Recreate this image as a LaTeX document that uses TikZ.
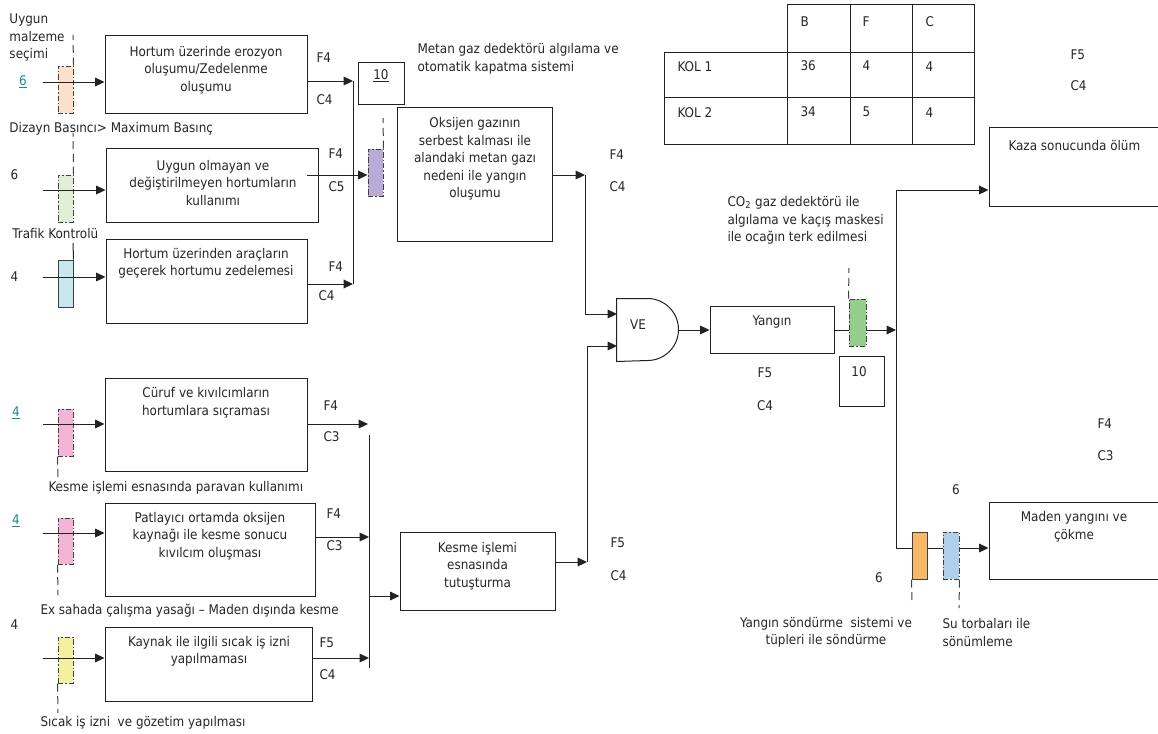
\documentclass[tikz,border=0pt]{standalone}
\usepackage{fontspec}
\setmainfont{DejaVu Sans Condensed}
\usetikzlibrary{arrows.meta,fit}
\definecolor{lnc}{HTML}{222222}
\definecolor{peach}{HTML}{FBE0CC}
\definecolor{pgreen}{HTML}{E0EFD6}
\definecolor{pblue}{HTML}{C8E7EE}
\definecolor{ppurple}{HTML}{B9AAD6}
\definecolor{ppink}{HTML}{F4B4D4}
\definecolor{pyellow}{HTML}{F4F19E}
\definecolor{ygreen}{HTML}{95CE8C}
\definecolor{porange}{HTML}{F9B865}
\definecolor{lblue}{HTML}{AED0EA}
\definecolor{tealc}{HTML}{1B8A8A}
\begin{document}
\begin{tikzpicture}[x=0.75pt,y=-0.75pt,
  line width=0.75pt, draw=lnc,
  box/.style={draw=lnc, inner sep=0pt, line width=0.75pt},
  ctrl/.style={draw=black!75, inner sep=0pt, line width=0.75pt, dash pattern=on 4pt off 1.5pt on 1pt off 1.5pt},
  ctrls/.style={draw=black!75, inner sep=0pt, line width=0.75pt},
  arr/.style={draw=lnc, -{Triangle[length=7pt,width=6.5pt]}},
  ln/.style={draw=lnc},
  dline/.style={draw=black!75, dash pattern=on 6pt off 3.5pt},
  lbl/.style={inner sep=0pt, anchor=west, font=\fontsize{10}{13.2}\selectfont, text=black!85},
  ml/.style={lbl, align=left},
  btxt/.style={inner sep=0pt, align=center, font=\fontsize{10}{13.2}\selectfont, text=black!85},
  tl/.style={inner sep=0pt, font=\fontsize{10}{13.2}\selectfont, text=tealc}
]
\useasboundingbox (0,0) rectangle (1158,733);

% ---------- top-left group ----------
\node[box, fit={(105,35) (307,113)}] (b1) {};
\node[btxt] (b1t) at (206,70) {Hortum üzerinde erozyon\\oluşumu/Zedelenme\\oluşumu};
\node[box, fit={(106,148) (318,222)}] (b2) {};
\node[btxt] (b2t) at (213,183) {Uygun olmayan ve\\değiştirilmeyen hortumların\\kullanımı};
\node[box, fit={(106,239) (307,323)}] (b3) {};
\node[btxt] (b3t) at (206,263.5) {Hortum üzerinden araçların\\geçerek hortumu zedelemesi};

\node[ctrl, fill=peach, fit={(58,66) (73,113)}] (c1) {};
\node[ctrl, fill=pgreen, fit={(58,175) (73,222)}] (c2) {};
\node[ctrls, fill=pblue, fit={(58,260) (73,307)}] (c3) {};
\coordinate (d1) at (73,35);
\coordinate (d2) at (73,133);
\coordinate (d3) at (73,243);
\draw[dline] (c1.north east) -- (d1);
\draw[dline] (c2.north east) -- (d2);
\draw[ln] (c3.north east) -- (d3);

\coordinate (i1) at (43,82);
\coordinate (i2) at (43,190);
\coordinate (i3) at (43,277);
\draw[arr] (i1) -- (b1.west |- i1);
\draw[arr] (i2) -- (b2.west |- i2);
\draw[arr] (i3) -- (b3.west |- i3);

\node[ml] (l1) at (9,37.5) {Uygun\\malzeme\\seçimi};
\node[tl] (l1n) at (23,82) {\underline{6}};
\node[lbl] (l2) at (9,129) {Dizayn Basıncı> Maximum Basınç};
\node[lbl] (l2n) at (10,175) {6};
\node[lbl] (l3) at (12,234) {Trafik Kontrolü};
\node[lbl] (l3n) at (10,277) {4};

\node[lbl] (f1) at (316,58) {F4};
\node[lbl] (g1) at (316,100) {C4};
\node[lbl] (f2) at (328,154) {F4};
\node[lbl] (g2) at (328,187) {C5};
\node[lbl] (f3) at (328,267) {F4};
\node[lbl] (g3) at (318,296) {C4};

\coordinate (j1t) at (353,81);
\coordinate (j1b) at (353,284);
\draw[ln] (j1t) -- (j1b);
\draw[arr] (b1.east |- j1t) -- (j1t);
\draw[arr] (b3.east |- j1b) -- (j1b);

\node[box, fit={(358,62) (404,104)}] (n10a) {};
\node[lbl, anchor=center] (n10at) at (381,76) {\underline{10}};
\node[ml] (metan) at (417,59) {\fontsize{10}{16.5}\selectfont Metan gaz dedektörü algılama ve\\otomatik kapatma sistemi};

\node[ctrl, fill=ppurple, fit={(368,149) (383,196)}] (c4) {};
\coordinate (d4) at (383,118);
\draw[dline] (c4.north east) -- (d4);
\coordinate (p2) at (307,175);
\draw[arr] (p2) -- (c4.west |- p2);

\node[box, fit={(397,107) (552,241)}] (ob) {};
\node[btxt] (obt) at (475,159) {\fontsize{10}{12.7}\selectfont Oksijen gazının\\serbest kalması ile\\alandaki metan gazı\\nedeni ile yangın\\oluşumu};
\node[lbl] (f7) at (609,155) {F4};
\node[lbl] (g7) at (609,187) {C4};

% ---------- bottom-left group ----------
\node[box, fit={(105,378) (307,471)}] (b4) {};
\node[btxt] (b4t) at (206,403) {Cüruf ve kıvılcımların\\hortumlara sıçraması};
\node[box, fit={(105,503) (315,596)}] (b5) {};
\node[btxt] (b5t) at (210,536) {Patlayıcı ortamda oksijen\\kaynağı ile kesme sonucu\\kıvılcım oluşması};
\node[box, fit={(105,627) (312,701)}] (b6) {};
\node[btxt] (b6t) at (209,651.5) {Kaynak ile ilgili sıcak iş izni\\yapılmaması};

\node[ctrl, fill=ppink, fit={(58,409) (73,456)}] (c5) {};
\node[ctrl, fill=ppink, fit={(58,518) (73,564)}] (c6) {};
\node[ctrl, fill=pyellow, fit={(58,637) (73,683)}] (c7) {};
\coordinate (d5) at (58,478);
\coordinate (d6) at (58,595);
\coordinate (d7) at (58,713);
\draw[dline] (c5.south west) -- (d5);
\draw[dline] (c6.south west) -- (d6);
\draw[dline] (c7.south west) -- (d7);

\coordinate (i4) at (43,424);
\coordinate (i5) at (43,533);
\coordinate (i6) at (43,658);
\draw[arr] (i4) -- (b4.west |- i4);
\draw[arr] (i5) -- (b5.west |- i5);
\draw[arr] (i6) -- (b6.west |- i6);

\node[tl] (l4n) at (16,413) {\underline{4}};
\node[lbl] (l4) at (48,488) {Kesme işlemi esnasında paravan kullanımı};
\node[tl] (l5n) at (16,521) {\underline{4}};
\node[lbl] (l5) at (40,611) {Ex sahada çalışma yasağı – Maden dışında kesme};
\node[lbl] (l6n) at (10,625) {4};
\node[lbl] (l6) at (40,723) {Sıcak iş izni\ \ ve gözetim yapılması};

\node[lbl] (f4) at (323,406) {F4};
\node[lbl] (g4) at (323,437) {C3};
\node[lbl] (f5) at (326,514) {F4};
\node[lbl] (g5) at (326,546) {C3};
\node[lbl] (f6) at (319,643) {F5};
\node[lbl] (g6) at (319,675) {C4};

\coordinate (j2t) at (369,435);
\coordinate (j2b) at (369,668);
\draw[ln] (j2t) -- (j2b);
\coordinate (a4) at (368,424);
\coordinate (a5) at (369,537);
\coordinate (a6) at (369,658);
\draw[arr] (b4.east |- a4) -- (a4);
\draw[arr] (b5.east |- a5) -- (a5);
\draw[arr] (b6.east |- a6) -- (a6);

\node[box, fit={(400,532) (555,610)}] (kb) {};
\node[btxt] (kbt) at (477.5,566) {Kesme işlemi\\esnasında\\tutuşturma};
\coordinate (a7) at (369,596);
\draw[arr] (a7) -- (kb.west |- a7);
\node[lbl] (f8) at (610,543) {F5};
\node[lbl] (g8) at (610,576) {C4};

% ---------- VE gate ----------
\node[inner sep=0pt, fit={(617,299) (679,361)}] (ve) {};
\draw[ln] (ve.north west) -- ++(31,0) arc[start angle=90, end angle=-90, radius=23.25pt] -- (ve.south west) -- cycle;
\node[lbl, anchor=center] (vet) at (638,325) {VE};

\coordinate (k1) at (585,175);
\coordinate (k2) at (587,562);
\coordinate (v1) at (617,314);
\coordinate (v2) at (617,346);
\draw[arr] (ob.east |- k1) -- (k1);
\draw[arr] (k1) -- (k1 |- v1) -- (v1);
\draw[arr] (kb.east |- k2) -- (k2);
\draw[arr] (k2) -- (k2 |- v2) -- (v2);

% ---------- Yangin ----------
\node[box, fit={(710,306) (834,353)}] (yb) {};
\node[btxt] (ybt) at (772,322) {Yangın};
\coordinate (vo) at (679,330);
\draw[arr] (vo) -- (yb.west |- vo);
\node[ctrl, fill=ygreen, fit={(849,299) (866,346)}] (c8) {};
\coordinate (d8) at (849,268);
\draw[dline] (c8.north west) -- (d8);
\coordinate (r1) at (896,330);
\draw[ln] (yb.east |- r1) -- (c8.west |- r1);
\draw[arr] (c8.east |- r1) -- (r1);

\node[box, fit={(839,356) (884,406)}] (n10b) {};
\node[lbl, anchor=center] (n10bt) at (859,372) {10};
\node[lbl, anchor=center] (f9) at (765,373) {F5};
\node[lbl, anchor=center] (g9) at (765,406) {C4};
\node[ml] (co2) at (727,220.5) {CO\textsubscript{2} gaz dedektörü ile\\algılama ve kaçış maskesi\\ile ocağın terk edilmesi};

% ---------- right side ----------
\coordinate (rt) at (896,190);
\coordinate (rb) at (896,548);
\draw[ln] (rt) -- (rb);
\node[box, fit={(989,127) (1162,206)}] (kz) {};
\node[lbl] (kzt) at (1008,146) {Kaza sonucunda ölüm};
\draw[arr] (rt) -- (kz.west |- rt);

\node[ctrls, fill=porange, fit={(912,532) (927,579)}] (c9) {};
\node[ctrl, fill=lblue, fit={(943,532) (959,579)}] (c10) {};
\coordinate (d9) at (912,603);
\coordinate (d10) at (959,608);
\draw[dline] (c9.south west) -- (d9);
\draw[dline] (c10.south east) -- (d10);
\node[box, fit={(989,502) (1162,579)}] (mb) {};
\node[btxt] (mbt) at (1074,526.5) {Maden yangını ve\\çökme};
\draw[ln] (rb) -- (c9.west |- rb);
\draw[ln] (c9.east |- rb) -- (c10.west |- rb);
\draw[arr] (c10.east |- rb) -- (mb.west |- rb);

\node[lbl, anchor=center] (s1) at (956,490) {6};
\node[lbl, anchor=center] (s2) at (879,578) {6};
\node[btxt] (ys) at (826,632.5) {Yangın söndürme\ \ sistemi ve\\tüpleri ile söndürme};
\node[ml] (st) at (942,632.5) {Su torbaları ile\\sönümleme};

\node[lbl] (f10) at (1070,55) {F5};
\node[lbl] (g10) at (1070,86) {C4};
\node[lbl] (f11) at (1097,424) {F4};
\node[lbl] (g11) at (1097,456) {C3};

% ---------- table ----------
\draw[ln] (787,4) rectangle (974,144);
\draw[ln] (664,52) rectangle (974,144);
\draw[ln] (664,97) -- (974,97);
\draw[ln] (850,4) -- (850,144);
\draw[ln] (912,4) -- (912,144);
\node[lbl] (tB) at (800,22) {B};
\node[lbl] (tF) at (862,22) {F};
\node[lbl] (tC) at (925,22) {C};
\node[lbl] (tk1) at (677,67) {KOL 1};
\node[lbl] (t11) at (800,66) {36};
\node[lbl] (t12) at (862,66) {4};
\node[lbl] (t13) at (925,67) {4};
\node[lbl] (tk2) at (677,113) {KOL 2};
\node[lbl] (t21) at (800,112) {34};
\node[lbl] (t22) at (862,112) {5};
\node[lbl] (t23) at (925,113) {4};
\end{tikzpicture}
\end{document}
